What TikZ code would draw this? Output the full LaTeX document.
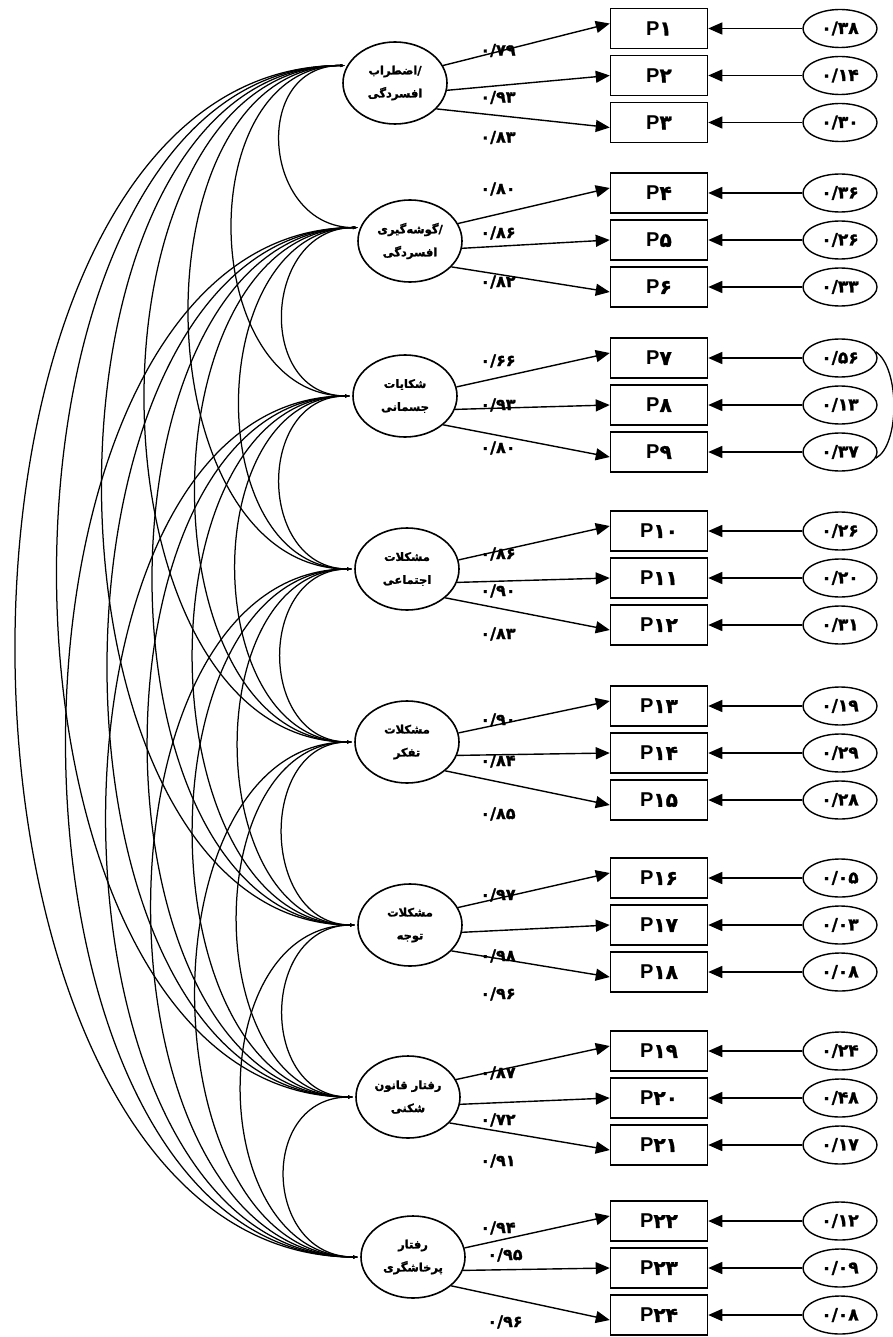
\documentclass[tikz,border=0pt]{standalone}
\usepackage{fontspec}
\setmainfont{Liberation Sans}
\newfontfamily\fafont[Script=Arabic,BoldFeatures={FakeBold=1.5}]{DejaVu Sans}
\newfontfamily\numfont[BoldFeatures={FakeBold=1.5}]{DejaVu Sans}
\TeXXeTstate=1
\usetikzlibrary{arrows.meta,shapes.geometric}
\tikzset{
  latent/.style={ellipse, draw, line width=1.6pt, minimum width=104pt, minimum height=82pt, inner sep=0pt, align=center, font=\fafont\bfseries\fontsize{11.5}{23}\selectfont},
  obs/.style={rectangle, draw, line width=1.5pt, minimum width=97pt, minimum height=40pt, inner sep=0pt, font=\bfseries\fontsize{20}{20}\selectfont},
  err/.style={ellipse, draw, line width=1.4pt, minimum width=74pt, minimum height=38pt, inner sep=0pt, font=\numfont\bfseries\fontsize{17}{17}\selectfont},
  load/.style={line width=1.4pt, -{Triangle[length=14pt,width=12pt]}},
  lab/.style={font=\numfont\bfseries\fontsize{16}{16}\selectfont, inner sep=0pt},
  cor/.style={line width=1.25pt, {Latex[length=7pt,width=3pt]}-{Latex[length=7pt,width=3pt]}},
  ecor/.style={line width=1.3pt}
}
\begin{document}
\begin{tikzpicture}[x=1pt,y=-1pt]
\useasboundingbox (0,0) rectangle (893,1337);

% latent factors
\node[latent] (L1) at (395,83)   {\beginR اضطراب\endR/\\\beginR افسردگی\endR};
\node[latent] (L2) at (410,241)  {\beginR گوشه‌گیری\endR/\\\beginR افسردگی\endR};
\node[latent] (L3) at (405,396)  {\beginR شکایات\endR\\\beginR جسمانی\endR};
\node[latent] (L4) at (407,569)  {\beginR مشکلات\endR\\\beginR اجتماعی\endR};
\node[latent] (L5) at (407,742)  {\beginR مشکلات\endR\\\beginR تفکر\endR};
\node[latent] (L6) at (410,925)  {\beginR مشکلات\endR\\\beginR توجه\endR};
\node[latent] (L7) at (408,1097) {\beginR رفتار قانون\endR\\\beginR شکنی\endR};
\node[latent] (L8) at (413,1257) {\beginR رفتار\endR\\\beginR پرخاشگری\endR};

% observed variables and error terms
\foreach \k/\y/\t/\e in {
  1/28.5/۱/۳۸, 2/75.5/۲/۱۴, 3/122.5/۳/۳۰,
  4/193/۴/۳۶, 5/240/۵/۲۶, 6/287/۶/۳۳,
  7/358/۷/۵۶, 8/405/۸/۱۳, 9/452/۹/۳۷,
  10/531/۱۰/۲۶, 11/578/۱۱/۲۰, 12/625/۱۲/۳۱,
  13/706/۱۳/۱۹, 14/753/۱۴/۲۹, 15/800/۱۵/۲۸,
  16/878/۱۶/۰۵, 17/925/۱۷/۰۳, 18/972/۱۸/۰۸,
  19/1051/۱۹/۲۴, 20/1098/۲۰/۴۸, 21/1145/۲۱/۱۷,
  22/1221/۲۲/۱۲, 23/1268/۲۳/۰۹, 24/1315/۲۴/۰۸}{
  \node[obs] (P\k) at (659,\y) {P{\numfont\t}};
  \node[err] (E\k) at (840,\y) {۰/\e};
  \draw[load] (E\k.west) -- (P\k.east);
}

% loadings
\foreach \g/\a/\b/\c in {1/20/-8/-32, 2/20/-8/-32, 3/10/-15/-37, 4/10/-15/-37,
                         5/10/-15/-37, 6/20/-8/-32, 7/20/-8/-32, 8/10/-15/-37}{
  \pgfmathtruncatemacro\pa{3*\g-2}
  \pgfmathtruncatemacro\pb{3*\g-1}
  \pgfmathtruncatemacro\pc{3*\g}
  \draw[load] (L\g.\a) -- ([yshift=5pt]P\pa.west);
  \draw[load] (L\g.\b) -- (P\pb.west);
  \draw[load] (L\g.\c) -- ([yshift=-5pt]P\pc.west);
}

% loading values
\foreach \x/\y/\v in {
  498/50.5/۷۹, 498/97.5/۹۳, 498/137.5/۸۳,
  498/189/۸۰, 498/233/۸۶, 498/282/۸۲,
  498/361/۶۶, 498/405/۹۳, 498/448/۸۰,
  498/554/۸۶, 498/591/۹۰, 498/634/۸۳,
  498/720/۹۰, 498/761/۸۴, 498/814/۸۵,
  498/895/۹۷, 498/956/۹۸, 498/994/۹۶,
  498/1073/۸۷, 498/1120/۷۲, 498/1161/۹۱,
  498/1228/۹۴, 505/1255/۹۵, 505/1322/۹۶}{
  \node[lab] at (\x,\y) {۰/\v};
}

% correlation anchors
\coordinate (A1) at (L1.160);
\coordinate (A2) at (L2.165);
\coordinate (A3) at (L3.180);
\coordinate (A4) at (L4.180);
\coordinate (A5) at (L5.180);
\coordinate (A6) at (L6.180);
\coordinate (A7) at (L7.180);
\coordinate (A8) at (L8.180);

\foreach \i in {1,...,7}{
  \pgfmathtruncatemacro\s{\i+1}
  \foreach \j in {\s,...,8}{
    \pgfmathsetmacro\cc{(4/3)*(29+44*(\j-\i))}
    \draw[cor] (A\i) .. controls +(-\cc,0) and +(-\cc,0) .. (A\j);
  }
}

% correlated errors
\draw[ecor] (E7.10) .. controls (900,368) and (900,445) .. (E9.-10);
\end{tikzpicture}
\end{document}
